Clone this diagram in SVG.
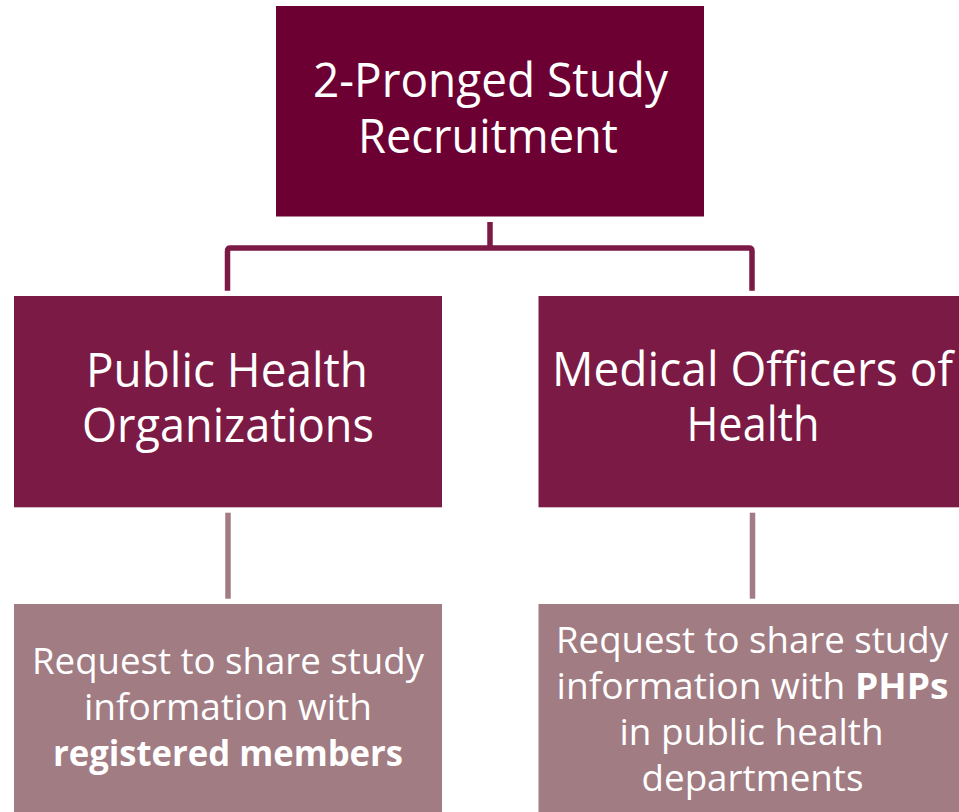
<svg xmlns="http://www.w3.org/2000/svg" width="959" height="812" viewBox="0 0 959 812">
<style>
  .t { font-family: "Open Sans", "Noto Sans", "Liberation Sans", sans-serif; fill: #ffffff; text-anchor: middle; }
  .big { font-size: 47px; }
  .small { font-size: 36.5px; }
  .b { font-weight: bold; }
  .top { fill: #6D0033; }
  .mid { fill: #7B1A44; }
  .low { fill: #A17C83; }
  .c1 { fill: none; stroke: #7B1A44; stroke-width: 5.5; stroke-linejoin: round; }
  .c2 { fill: none; stroke: #A27B84; stroke-width: 5.5; }
</style>
<rect width="959" height="812" fill="#ffffff"/>
<g id="connectors">
  <path class="c1" d="M490 222 V248"/>
  <path class="c1" d="M227.5 290.7 V251 Q227.5 248 230.5 248 H749 Q752 248 752 251 V290.7"/>
  <path class="c2" d="M228 512.7 V598.7"/>
  <path class="c2" d="M752.5 512.7 V598.7"/>
</g>
<g id="node-top">
  <rect class="top" x="276" y="6" width="428" height="210.5"/>
  <text class="t big" x="490.5" y="97" textLength="355" lengthAdjust="spacingAndGlyphs">2-Pronged Study</text>
  <text class="t big" x="488" y="153" textLength="260" lengthAdjust="spacingAndGlyphs">Recruitment</text>
</g>
<g id="node-pho">
  <rect class="mid" x="14" y="296" width="428" height="211.3"/>
  <text class="t big" x="227" y="387" textLength="282" lengthAdjust="spacingAndGlyphs">Public Health</text>
  <text class="t big" x="228" y="442" textLength="292" lengthAdjust="spacingAndGlyphs">Organizations</text>
</g>
<g id="node-moh">
  <rect class="mid" x="538.5" y="296" width="428" height="211.3"/>
  <text class="t big" x="752.5" y="386" textLength="401" lengthAdjust="spacingAndGlyphs">Medical Officers of</text>
  <text class="t big" x="753" y="441" textLength="133" lengthAdjust="spacingAndGlyphs">Health</text>
</g>
<g id="node-pho-detail">
  <rect class="low" x="14" y="604" width="428" height="211"/>
  <text class="t small" x="228" y="674" textLength="392" lengthAdjust="spacingAndGlyphs">Request to share study</text>
  <text class="t small" x="228" y="720" textLength="288" lengthAdjust="spacingAndGlyphs">information with</text>
  <text class="t small b" x="228" y="766" textLength="350" lengthAdjust="spacingAndGlyphs">registered members</text>
</g>
<g id="node-moh-detail">
  <rect class="low" x="538.5" y="604" width="428" height="211"/>
  <text class="t small" x="752" y="653" textLength="392" lengthAdjust="spacingAndGlyphs">Request to share study</text>
  <text class="t small" x="752.5" y="699" textLength="392" lengthAdjust="spacingAndGlyphs">information with <tspan class="b">PHPs</tspan></text>
  <text class="t small" x="751.5" y="745" textLength="264" lengthAdjust="spacingAndGlyphs">in public health</text>
  <text class="t small" x="752.5" y="791" textLength="222" lengthAdjust="spacingAndGlyphs">departments</text>
</g>
</svg>
